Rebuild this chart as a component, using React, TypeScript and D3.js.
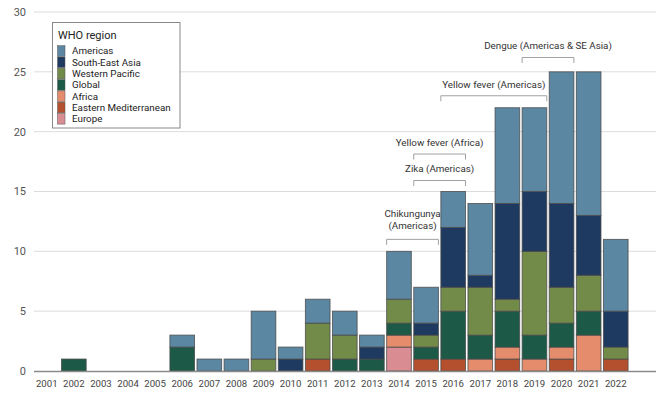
import React from "react";
import * as d3 from "d3";

const years = ["2001","2002","2003","2004","2005","2006","2007","2008","2009","2010","2011","2012","2013","2014","2015","2016","2017","2018","2019","2020","2021","2022"];
// stacked bottom -> top
const regions = ["Europe","Eastern Mediterranean","Africa","Global","Western Pacific","South-East Asia","Americas"];
const colors = ["#d98d93","#b4502e","#e58c6c","#1c5a47","#728b49","#1e3a60","#5b87a3"];
const europe =   [0,0,0,0,0,0,0,0,0,0,0,0,0,2,0,0,0,0,0,0,0,0];
const eastMed =  [0,0,0,0,0,0,0,0,0,0,1,0,0,0,1,1,0,1,0,1,0,1];
const africa =   [0,0,0,0,0,0,0,0,0,0,0,0,0,1,0,0,1,1,1,1,3,0];
const global =   [0,1,0,0,0,2,0,0,0,0,0,1,1,1,1,4,2,3,2,2,2,0];
const westPac =  [0,0,0,0,0,0,0,0,1,0,3,2,0,2,1,2,4,1,7,3,3,1];
const seAsia =   [0,0,0,0,0,0,0,0,0,1,0,0,1,0,1,5,1,8,5,7,5,3];
const americas = [0,0,0,0,0,1,1,1,4,1,2,2,1,4,3,3,6,8,7,11,12,6];
const yTicks = [0,5,10,15,20,25,30];
const annotations = [
  { lines: ["Dengue (Americas & SE Asia)"], from: "2019", to: "2020", level: 26.2 },
  { lines: ["Yellow fever (Americas)"], from: "2016", to: "2019", level: 23.0 },
  { lines: ["Yellow fever (Africa)"], from: "2015", to: "2016", level: 18.13 },
  { lines: ["Zika (Americas)"], from: "2015", to: "2016", level: 15.92 },
  { lines: ["Chikungunya", "(Americas)"], from: "2014", to: "2015", level: 11.0 },
];

const series = [europe, eastMed, africa, global, westPac, seAsia, americas];

export default function App() {
  const W = 669, H = 401;
  const x = d3.scaleBand().domain(years).range([33.2, 629.3]).paddingInner(0.09).paddingOuter(0.045);
  const y = d3.scaleLinear().domain([0, 30]).range([371, 12]);
  const rows = years.map((yr, i) => {
    const o: any = { year: yr };
    regions.forEach((r, k) => (o[r] = series[k][i]));
    return o;
  });
  const stacked = d3.stack().keys(regions)(rows as any);
  const font = "Roboto, 'Noto Sans', sans-serif";
  const bw = x.bandwidth();
  return (
    <svg width={W} height={H} style={{ position: "absolute", left: 0, top: 0, fontFamily: font }}>
      {yTicks.map((t) => (
        <g key={t}>
          {t > 0 && <line x1={34} x2={656} y1={y(t)} y2={y(t)} stroke="#dcdcdc" strokeWidth={1} />}
          <text x={26} y={y(t)} dy="0.35em" textAnchor="end" fontSize={11} fill="#555">{t}</text>
        </g>
      ))}
      {stacked.map((s, k) =>
        s.map((d, i) => {
          const h = y(d[0]) - y(d[1]);
          if (h <= 0) return null;
          return (
            <rect key={regions[k] + i} x={x(years[i])!} y={y(d[1])} width={bw} height={h}
              fill={colors[k]} stroke="#4a4a4a" strokeOpacity={0.85} strokeWidth={0.9} />
          );
        })
      )}
      <line x1={34} x2={656} y1={y(0) + 0.5} y2={y(0) + 0.5} stroke="#8a8a8a" strokeWidth={1.5} />
      {years.map((yr) => (
        <text key={yr} x={x(yr)! + bw / 2} y={386.5} textAnchor="middle" fontSize={9.6} fill="#444">{yr}</text>
      ))}
      {annotations.map((a, j) => {
        const x1 = x(a.from)!;
        const x2 = x(a.to)! + bw;
        const yl = y(a.level);
        const cx = (x1 + x2) / 2;
        const off = a.lines.length > 1 ? 10 : 8;
        return (
          <g key={j}>
            <path d={`M${x1},${yl + 5.5}V${yl}H${x2}V${yl + 5.5}`} fill="none" stroke="#a0a0a0" strokeWidth={1} />
            {a.lines.map((ln, li) => (
              <text key={li} x={cx} y={yl - off - (a.lines.length - 1 - li) * 12.4} textAnchor="middle" fontSize={9.8} fill="#333">{ln}</text>
            ))}
          </g>
        );
      })}
      <g>
        <rect x={52.5} y={22.5} width={127.5} height={105.5} fill="#fff" stroke="#888" strokeWidth={1} />
        <text x={58} y={39} fontSize={11} fill="#222">WHO region</text>
        {regions.slice().reverse().map((r, i) => {
          const k = regions.length - 1 - i;
          const cy = 51 + i * 11.3;
          return (
            <g key={r}>
              <rect x={57.5} y={cy - 5.3} width={7.5} height={10.6} fill={colors[k]} stroke="#555" strokeWidth={0.5} />
              <text x={72} y={cy} dy="0.35em" fontSize={9.8} fill="#222">{r}</text>
            </g>
          );
        })}
      </g>
    </svg>
  );
}
